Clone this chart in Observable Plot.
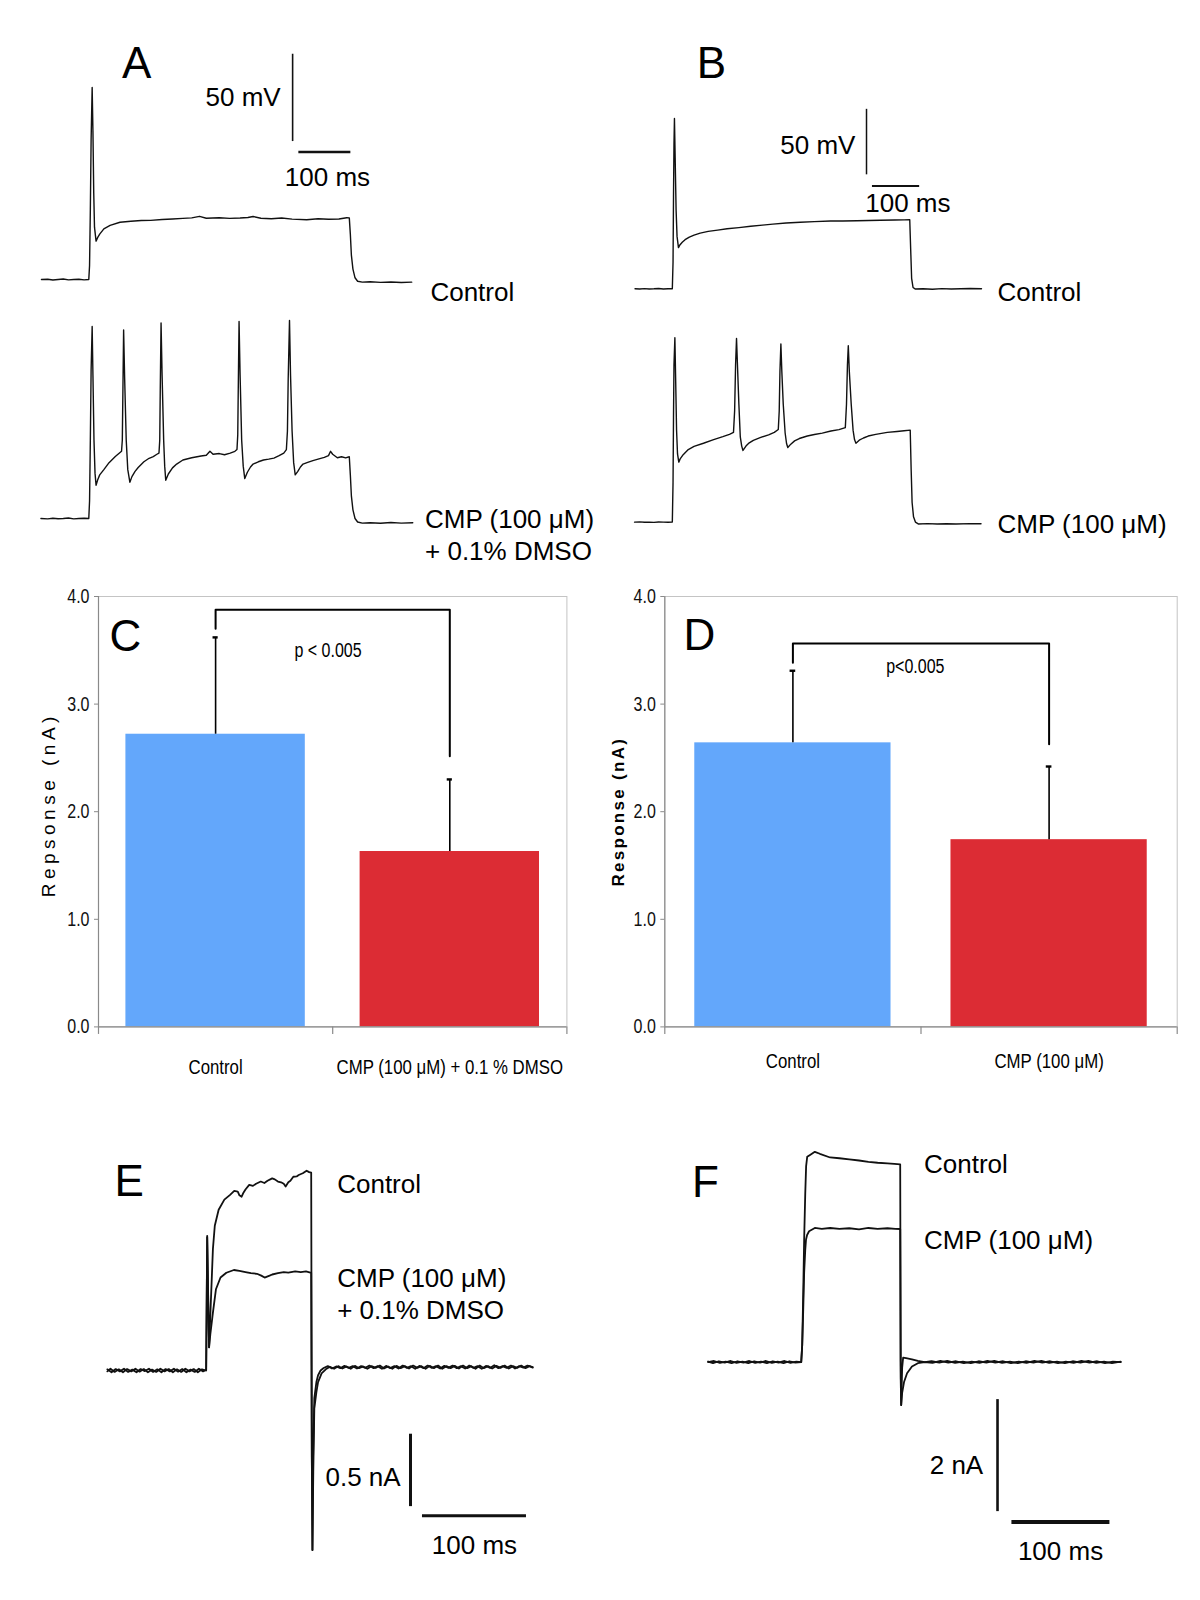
<!DOCTYPE html>
<html><head><meta charset="utf-8">
<script src="https://cdn.jsdelivr.net/npm/d3@7"></script>
<script src="https://cdn.jsdelivr.net/npm/@observablehq/plot@0.6"></script>
<style>
html,body{margin:0;padding:0;background:#fff;}
#fig{position:relative;width:1200px;height:1600px;background:#fff;overflow:hidden;}
#fig svg{position:absolute;}
</style></head><body><div id="fig"></div>
<script>
// ---------------- DATA ----------------
// Panel A: membrane potential traces, [time ms, mV]
const aControl = [[-92,-70.0],[-80,-69.8],[-70,-70.3],[-60,-70.0],[-50,-69.7],[-40,-70.2],[-30,-70.0],[-20,-69.8],[-10,-70.2],[-1,-70.0],
[0.5,-62],[2,-30],[3.5,10],[5.5,40],[7,15],[8.5,-20],[10,-40],[13,-48],[16,-46],[20,-44],[28,-41],[40,-39],[59,-37.2],[80,-36.6],[100,-36.2],[118,-36.1],[140,-35.6],[160,-35.3],[180,-35.0],[197,-34.7],[212,-33.8],[225,-34.9],[250,-34.6],[270,-35.0],[290,-34.8],[305,-34.5],[315,-33.9],[330,-34.9],[350,-35.2],[370,-34.8],[390,-35.4],[418,-35.8],[440,-35.2],[460,-35.5],[480,-35.3],[495,-34.6],[500,-34.7],
[502,-44],[504,-56],[507,-64],[511,-69],[516,-71.0],[525,-71.5],[540,-71.3],[560,-71.6],[580,-71.4],[600,-71.7],[620,-71.5]];
const aCmp = [[-93,-70.0],[-80,-70.2],[-70,-69.8],[-60,-70.1],[-50,-70.0],[-40,-69.7],[-30,-70.2],[-20,-70.0],[-10,-69.8],[-1,-70.0],
[0.5,-60],[2,-25],[3.5,15],[5.5,40],[7,12],[9,-25],[11,-44],[13,-50.9],[16,-48],[20,-45],[28,-42],[38,-38],[50,-34.5],[58,-32.5],[62,-31.5],
[63.5,-25],[64.5,0],[66,38],[68,10],[71,-25],[74,-42],[78,-49.2],[82,-46],[88,-43],[94,-40.8],[105,-37.5],[115,-35.5],[123,-34.5],[130,-33.2],[134,-32.5],
[135.5,-25],[136.5,5],[138,42],[140,12],[143,-25],[145,-40],[147,-48.1],[152,-44.5],[160,-41],[168,-38.8],[180,-36.5],[197,-35.2],[215,-34.2],[225,-33.8],[232,-31.5],[238,-33.2],[250,-32.8],[260,-33.5],[271,-32.5],[280,-31.5],[284,-30.5],
[285.5,-22],[286.5,5],[288,42.8],[290,12],[293,-25],[296,-40],[299,-47.1],[304,-43.5],[310,-40.5],[315,-38.8],[325,-37.5],[335,-36.5],[345,-36],[355,-35.4],[365,-34],[374,-32.5],[379,-30.5],
[381,-20],[382.5,10],[385,43.4],[387,12],[390,-20],[393,-38],[396,-45],[401,-43],[406,-40.5],[411,-38.8],[420,-37.8],[430,-36.8],[440,-36],[452,-35],[460,-34],[464,-31.5],[468,-33.2],[477,-35.2],[485,-34.6],[493,-35.3],[500,-34.6],
[502,-45],[504,-57],[507,-65],[511,-70],[516,-72],[525,-72.6],[540,-72.4],[560,-72.7],[580,-72.3],[600,-72.6],[622,-72.4]];

// Panel B: membrane potential traces, [time ms, mV]
const bControl = [[-80,-70.0],[-70,-70.2],[-60,-69.9],[-50,-70.1],[-40,-70.0],[-30,-69.8],[-20,-70.1],[-10,-70.0],[-1,-70.0],
[0.5,-50],[1.5,0],[2.5,40],[3.5,60],[5,30],[7,-10],[9,-30],[12,-38.6],[15,-36.5],[20,-34.5],[26,-32.5],[35,-30.5],[45,-29],[58,-27.5],[75,-26.2],[95,-25.2],[115,-24.2],[140,-23.3],[165,-22.3],[190,-21.4],[212,-20.6],[240,-19.8],[270,-19.2],[300,-18.7],[334,-18.3],[360,-18.2],[390,-18.0],[415,-17.9],[440,-17.7],[470,-17.5],[490,-17.4],[502,-17.3],
[504,-40],[506,-62],[509,-69],[514,-70.2],[530,-70.0],[550,-70.3],[570,-69.9],[590,-70.1],[610,-70.0],[630,-69.8],[654,-70.0]];
const bCmp = [[-81,-70.0],[-70,-69.8],[-60,-70.1],[-50,-70.0],[-40,-70.2],[-30,-69.9],[-20,-70.0],[-10,-70.1],[-1,-70.0],
[0.5,-40],[1.5,10],[2.5,50],[4.4,70.7],[6,40],[8,0],[10,-18],[12.7,-24.2],[16,-21.5],[22,-18.5],[32.8,-14.6],[45,-12.2],[65,-9.8],[85,-7.2],[106,-4.8],[120,-3],[128.6,-1.5],
[131,15],[133,50],[135,70.2],[137,50],[140,20],[143,-5],[146,-12],[148.7,-15.3],[155,-12],[162,-9.5],[170.6,-7.6],[185,-5.5],[203,-3.4],[215,-1.5],[223.5,0.7],
[225.5,15],[227,45],[229,66],[231,45],[234,20],[238,-2],[241,-10],[243.6,-13.1],[250,-10.5],[258,-8],[268,-6.2],[285,-4.3],[300,-3.1],[316.7,-2.1],[335,-0.5],[352,0.6],[365.5,2.1],
[368,20],[370,50],[371.8,64.6],[374,45],[378,20],[382,0],[385,-7],[388,-9.8],[395,-7.5],[404,-5.8],[414,-4.3],[430,-3],[454.4,-1.5],[475,-0.8],[490,-0.3],[503,0.2],
[505,-30],[507,-55],[510,-66],[514,-70],[520,-71.4],[540,-71.2],[560,-71.5],[580,-71.3],[600,-71.4],[630,-71.2],[653,-71.3]];

// Panels C and D: mean response (nA) with error
const cCategories = ["Control", "CMP (100 μM) + 0.1 % DMSO"];
const cValues = [2.72, 1.63];
const cErrors = [0.90, 0.67];
const cBracket = [3.70, 3.877, 2.516];   // left leg bottom, bracket level, right leg bottom
const cPText = "p < 0.005";

const dCategories = ["Control", "CMP (100 μM)"];
const dValues = [2.64, 1.74];
const dErrors = [0.67, 0.68];
const dBracket = [3.384, 3.563, 2.628];
const dPText = "p<0.005";

const yTicks = [0, 1, 2, 3, 4];

// Panel E: current traces, [time ms, nA]
const eControl = [[-96,0.008],[-92,-0.012],[-88,0.010],[-84,-0.006],[-80,0.012],[-76,-0.010],[-72,0.006],[-68,-0.012],[-64,0.010],[-60,-0.004],[-56,0.012],[-52,-0.010],[-48,0.008],[-44,-0.012],[-40,0.010],[-36,-0.006],[-32,0.012],[-28,-0.008],[-24,0.010],[-20,-0.012],[-16,0.006],[-12,-0.010],[-8,0.012],[-4,-0.006],[-1,0.004],
[0,0.93],[1.2,0.40],[1.8,0.16],[3.6,0.49],[5.5,0.84],[7.3,1.00],[11,1.11],[16.5,1.18],[22,1.213],[26,1.24],[29.4,1.236],[31,1.21],[33.1,1.20],[35,1.23],[36.8,1.25],[40.4,1.282],[44,1.275],[47,1.29],[51.5,1.305],[55,1.295],[58,1.31],[62.5,1.327],[65,1.32],[68,1.305],[71,1.30],[73.6,1.29],[75.4,1.271],[78,1.30],[80,1.31],[82.8,1.338],[86,1.34],[88,1.35],[91.9,1.362],[95.6,1.38],[98,1.37],[100,1.366],
[100.6,-0.6],[101.2,-1.24],[101.8,-0.6],[103,-0.19],[105,-0.08],[106.6,-0.033],[109,0.0],[112,0.017],[116,0.030],[120,0.014],[124,0.028],[128,0.016],[132,0.032],[136,0.018],[140,0.030],[144,0.014],[148,0.030],[152,0.018],[156,0.034],[160,0.016],[164,0.030],[168,0.012],[172,0.032],[176,0.016],[180,0.030],[184,0.014],[188,0.034],[192,0.018],[196,0.030],[200,0.012],[204,0.032],[208,0.016],[212,0.034],[216,0.018],[220,0.030],[224,0.014],[228,0.032],[232,0.018],[236,0.034],[240,0.016],[244,0.030],[248,0.014],[252,0.034],[256,0.018],[260,0.030],[264,0.012],[268,0.032],[272,0.018],[276,0.036],[280,0.016],[284,0.030],[288,0.018],[292,0.034],[296,0.014],[300,0.030],[304,0.020],[308,0.034],[313,0.024]];
const eCmp = [[-96,-0.006],[-93,0.012],[-89,-0.010],[-85,0.008],[-81,-0.012],[-77,0.010],[-73,-0.006],[-69,0.012],[-65,-0.008],[-61,0.010],[-57,-0.012],[-53,0.006],[-49,-0.010],[-45,0.012],[-41,-0.006],[-37,0.010],[-33,-0.012],[-29,0.008],[-25,-0.010],[-21,0.012],[-17,-0.006],[-13,0.010],[-9,-0.012],[-5,0.008],[-1,0.0],
[0,0.92],[1.2,0.38],[1.8,0.16],[3,0.25],[5.5,0.40],[8.4,0.561],[12.8,0.642],[18.4,0.675],[25.7,0.694],[31,0.688],[36.8,0.68],[42,0.672],[47.8,0.668],[52,0.655],[55.2,0.642],[60,0.655],[62.5,0.663],[68,0.672],[73.6,0.68],[78,0.676],[84.6,0.685],[90,0.68],[95,0.685],[100,0.675],
[100.6,-0.6],[101.2,-1.24],[102,-0.7],[103,-0.262],[105,-0.15],[106.6,-0.08],[110,-0.02],[114,0.008],[118,0.026],[122,0.012],[126,0.030],[130,0.014],[134,0.028],[138,0.012],[142,0.032],[146,0.016],[150,0.028],[154,0.012],[158,0.030],[162,0.018],[166,0.034],[170,0.014],[174,0.028],[178,0.012],[182,0.032],[186,0.016],[190,0.030],[194,0.014],[198,0.034],[202,0.018],[206,0.030],[210,0.012],[214,0.032],[218,0.016],[222,0.034],[226,0.012],[230,0.030],[234,0.016],[238,0.032],[242,0.014],[246,0.034],[250,0.016],[254,0.030],[258,0.012],[262,0.034],[266,0.016],[270,0.030],[274,0.014],[278,0.032],[282,0.018],[286,0.034],[290,0.014],[294,0.030],[298,0.018],[302,0.034],[306,0.016],[310,0.030],[313,0.020]];

// Panel F: current traces, [time ms, nA]
const fControl = [[-96,0.0],[-90,0.02],[-84,-0.015],[-78,0.01],[-72,-0.02],[-66,0.015],[-60,-0.01],[-54,0.02],[-48,-0.015],[-42,0.01],[-36,-0.02],[-30,0.015],[-24,-0.01],[-18,0.02],[-12,-0.015],[-6,0.01],[-1,0.0],
[0,0.3],[1,1.2],[2,2.2],[3.1,3.0],[4,3.5],[5.1,3.666],[8,3.70],[12.9,3.755],[18,3.72],[28.5,3.654],[38,3.64],[48,3.62],[58,3.60],[67.6,3.577],[77,3.56],[87,3.548],[94,3.54],[100,3.53],
[100.5,0.0],[101,-0.768],[102,-0.1],[103,0.08],[106,0.07],[112,0.05],[118,0.02],[125,0.0],[132,0.015],[140,-0.01],[148,0.02],[156,-0.015],[164,0.01],[172,-0.02],[180,0.015],[188,-0.01],[196,0.02],[204,-0.015],[212,0.01],[220,-0.02],[228,0.015],[236,-0.01],[244,0.02],[252,-0.015],[260,0.01],[268,-0.02],[276,0.015],[284,-0.01],[292,0.02],[300,-0.015],[308,0.01],[316,-0.02],[325,0.01]];
const fCmp = [[-96,0.01],[-91,-0.02],[-85,0.015],[-79,-0.01],[-73,0.02],[-67,-0.015],[-61,0.01],[-55,-0.02],[-49,0.015],[-43,-0.01],[-37,0.02],[-31,-0.015],[-25,0.01],[-19,-0.02],[-13,0.015],[-7,-0.01],[-1,0.0],
[0,0.3],[1,0.9],[2,1.6],[3.1,2.0],[3.9,2.19],[5,2.27],[7,2.336],[12.9,2.395],[20,2.38],[28.5,2.395],[38,2.38],[48,2.39],[58,2.37],[67.6,2.395],[77,2.38],[87,2.39],[95,2.38],[100,2.377],
[100.5,-0.3],[101,-0.768],[102,-0.55],[104,-0.35],[107,-0.2],[112,-0.08],[118,-0.02],[125,0.0],[133,-0.015],[141,0.02],[149,-0.01],[157,0.015],[165,-0.02],[173,0.01],[181,-0.015],[189,0.02],[197,-0.01],[205,0.015],[213,-0.02],[221,0.01],[229,-0.015],[237,0.02],[245,-0.01],[253,0.015],[261,-0.02],[269,0.01],[277,-0.015],[285,0.02],[293,-0.01],[301,0.015],[309,-0.02],[317,0.01],[325,0.0]];

// ---------------- STYLE ----------------
const SANS = "'Liberation Sans', Arial, Helvetica, sans-serif";
const NARROW = "'Liberation Sans Narrow', 'Arial Narrow', 'Liberation Sans', Arial, sans-serif";
const BLUE = "#63a7fb", RED = "#dc2c34", INK = "#111";
const fig = document.getElementById("fig");

// is a true narrow face installed? if not, condense the regular face
const narrowInstalled = (() => {
  const ctx = document.createElement("canvas").getContext("2d");
  ctx.font = "20px 'Liberation Sans Narrow', monospace"; const a = ctx.measureText("Control 0.005").width;
  ctx.font = "20px monospace"; const b = ctx.measureText("Control 0.005").width;
  return Math.abs(a - b) > 0.5;
})();

function place(el, left, top) {
  el.style.left = left + "px"; el.style.top = top + "px"; fig.appendChild(el);
  if (!narrowInstalled) {
    el.querySelectorAll("g").forEach(g => {
      if (g.getAttribute("font-family") !== NARROW) return;
      g.querySelectorAll("text").forEach(t => {
        const w = t.getComputedTextLength();
        if (w > 0) { t.setAttribute("textLength", (w * 0.8).toFixed(2)); t.setAttribute("lengthAdjust", "spacingAndGlyphs"); }
      });
    });
  }
}

function lbl(x, y, text, o = {}) {
  return Plot.text([text], {x, y, fontSize: 26, fontFamily: SANS, fill: "#000", textAnchor: "start", ...o});
}
function letter(x, y, text) { return lbl(x, y, text, {fontSize: 44, textAnchor: "middle"}); }

function tracePlot({left, top, width, height, xDomain, xRange, yDomain, yRange, marks}) {
  const svg = Plot.plot({
    width, height, margin: 0,
    x: {domain: xDomain, range: xRange.map(v => v - left), axis: null},
    y: {domain: yDomain, range: yRange.map(v => v - top), axis: null},
    style: {background: "transparent", overflow: "visible"},
    marks
  });
  place(svg, left, top);
}
const line = (data, w) => Plot.line(data, {x: d => d[0], y: d => d[1], stroke: INK, strokeWidth: w, strokeLinejoin: "round"});

// ---- Panel A ----
const xA = {xDomain: [-100, 700], xRange: [36.8, 452.8]};
tracePlot({left: 0, top: 0, width: 600, height: 300, ...xA, yDomain: [-80, 60], yRange: [296.5, 52.0],
  marks: [
    line(aControl, 1.4),
    Plot.ruleX([391], {y1: 9, y2: 59, stroke: INK, strokeWidth: 1.6}),
    Plot.ruleY([3], {x1: 403, x2: 503, stroke: INK, strokeWidth: 2.6}),
    lbl(368, 34, "50 mV", {textAnchor: "end"}),
    lbl(458, -11.5, "100 ms", {textAnchor: "middle"}),
    lbl(656, -77.4, "Control"),
    letter(91, 53.7, "A")
  ]});
tracePlot({left: 0, top: 290, width: 600, height: 280, ...xA, yDomain: [-80, 60], yRange: [535.5, 291.0],
  marks: [
    line(aCmp, 1.4),
    lbl(645.6, -70.8, "CMP (100 μM)"),
    lbl(645.6, -88.9, "+ 0.1% DMSO")
  ]});

// ---- Panel B ----
const xB = {xDomain: [-100, 700], xRange: [625.1, 1002.7]};
tracePlot({left: 600, top: 0, width: 600, height: 305, ...xB, yDomain: [-80, 80], yRange: [301.4, 91.8],
  marks: [
    line(bControl, 1.4),
    Plot.ruleX([410.4], {y1: 17, y2: 67, stroke: INK, strokeWidth: 1.5}),
    Plot.ruleY([8.5], {x1: 423, x2: 523, stroke: INK, strokeWidth: 2}),
    lbl(387, 39.4, "50 mV", {textAnchor: "end"}),
    lbl(498, -5.3, "100 ms", {textAnchor: "middle"}),
    lbl(688, -72.8, "Control"),
    letter(82, 102, "B")
  ]});
tracePlot({left: 600, top: 305, width: 600, height: 265, ...xB, yDomain: [-80, 80], yRange: [534.7, 325.1],
  marks: [
    line(bCmp, 1.4),
    lbl(688, -72.2, "CMP (100 μM)")
  ]});

// ---- Panels C and D (bar charts) ----
function barPlot({left, top, mL, mR, cats, vals, errs, bracket, pText, pX, pY, letterName, letterX, letterY, catDy, yLabel, yLabelOpts}) {
  const data = cats.map((c, i) => ({cat: c, i, value: vals[i], err: errs[i]}));
  const pad = 0.117, cap = 0.011;
  const br = [[0.5, bracket[0]], [0.5, bracket[1]], [1.5, bracket[1]], [1.5, bracket[2]]];
  const {ls, ...labelOpts} = yLabelOpts;
  const svg = Plot.plot({
    width: 600, height: 520,
    marginLeft: mL, marginRight: mR, marginTop: 26, marginBottom: 520 - 456.4,
    x: {domain: [0, 2], axis: null},
    y: {domain: [0, 4], axis: null},
    color: {domain: cats, range: [BLUE, RED]},
    style: {background: "transparent", overflow: "visible"},
    marks: [
      Plot.frame({stroke: "#c4c4c4"}),
      Plot.rect(data, {x1: d => d.i + pad, x2: d => d.i + 1 - pad, y1: 0, y2: "value", fill: "cat"}),
      Plot.ruleX([0], {stroke: "#8a8a8a", strokeWidth: 1.2}),
      Plot.ruleY([0], {stroke: "#8a8a8a", strokeWidth: 1.2}),
      Plot.ruleX([0, 1, 2], {y1: 0, y2: -0.07, stroke: "#8a8a8a", strokeWidth: 1.2}),
      Plot.axisY({ticks: yTicks, tickFormat: d => d.toFixed(1), tickSize: 4, tickPadding: 5, label: null,
        stroke: "#8a8a8a", fill: "#111", fontSize: 20, fontFamily: NARROW}),
      Plot.ruleX(data, {x: d => d.i + 0.5, y1: "value", y2: d => d.value + d.err, stroke: "#000", strokeWidth: 1.6}),
      Plot.ruleY(data, {y: d => d.value + d.err, x1: d => d.i + 0.5 - cap, x2: d => d.i + 0.5 + cap, stroke: "#000", strokeWidth: 2.4}),
      Plot.line(br, {x: d => d[0], y: d => d[1], stroke: "#000", strokeWidth: 2}),
      Plot.text([pText], {x: pX, y: pY, fontSize: 20, fontFamily: NARROW, fill: "#000"}),
      Plot.text([letterName], {x: letterX, y: letterY, fontSize: 44, fontFamily: SANS, fill: "#000"}),
      Plot.text([yLabel], {frameAnchor: "left", textAnchor: "middle", rotate: -90, fill: "#000", ...labelOpts}),
      Plot.text(data, {x: d => d.i + 0.5, text: "cat", frameAnchor: "bottom", textAnchor: "middle", dy: catDy, fontSize: 21, fontFamily: NARROW, fill: "#000"})
    ]
  });
  svg.querySelectorAll("text").forEach(t => {
    if (t.textContent === yLabel) t.setAttribute("letter-spacing", ls);
  });
  place(svg, left, top);
}
barPlot({left: 0, top: 570, mL: 98, mR: 33.6, cats: cCategories, vals: cValues, errs: cErrors, bracket: cBracket,
  pText: cPText, pX: 0.98, pY: 3.50, letterName: "C", letterX: 0.115, letterY: 3.62, catDy: 47,
  yLabel: "Repsonse (nA)", yLabelOpts: {dx: -50, dy: -7, fontSize: 19, fontFamily: SANS, ls: "4.5"}});
barPlot({left: 600, top: 570, mL: 64.3, mR: 23.3, cats: dCategories, vals: dValues, errs: dErrors, bracket: dBracket,
  pText: dPText, pX: 0.978, pY: 3.353, letterName: "D", letterX: 0.135, letterY: 3.635, catDy: 41,
  yLabel: "Response (nA)", yLabelOpts: {dx: -46, fontSize: 17, fontWeight: "bold", fontFamily: SANS, ls: "2.3"}});

// ---- Panel E ----
tracePlot({left: 0, top: 1100, width: 600, height: 500, xDomain: [-100, 320], xRange: [102.7, 539.5],
  yDomain: [-1.5, 1.5], yRange: [1587.2, 1152.8],
  marks: [
    line(eControl, 1.8),
    line(eCmp, 1.8),
    Plot.ruleX([195.5], {y1: -0.94, y2: -0.44, stroke: INK, strokeWidth: 3}),
    Plot.ruleY([-1.003], {x1: 207, x2: 307, stroke: INK, strokeWidth: 3}),
    lbl(186, -0.743, "0.5 nA", {textAnchor: "end"}),
    lbl(257, -1.209, "100 ms", {textAnchor: "middle"}),
    lbl(125, 1.28, "Control"),
    lbl(125, 0.631, "CMP (100 μM)"),
    lbl(125, 0.413, "+ 0.1% DMSO"),
    letter(-75, 1.305, "E")
  ]});

// ---- Panel F ----
tracePlot({left: 600, top: 1100, width: 600, height: 500, xDomain: [-100, 330], xRange: [703.7, 1125.1],
  yDomain: [-2, 5], yRange: [1473.6, 1081.6],
  marks: [
    line(fControl, 1.8),
    line(fCmp, 1.8),
    Plot.ruleX([199.3], {y1: -2.67, y2: -0.67, stroke: INK, strokeWidth: 2.6}),
    Plot.ruleY([-2.854], {x1: 214, x2: 314, stroke: INK, strokeWidth: 4}),
    lbl(184.7, -1.846, "2 nA", {textAnchor: "end"}),
    lbl(263.6, -3.382, "100 ms", {textAnchor: "middle"}),
    lbl(124.3, 3.529, "Control"),
    lbl(124.3, 2.175, "CMP (100 μM)"),
    letter(-98.7, 3.207, "F")
  ]});
</script>
</body></html>
